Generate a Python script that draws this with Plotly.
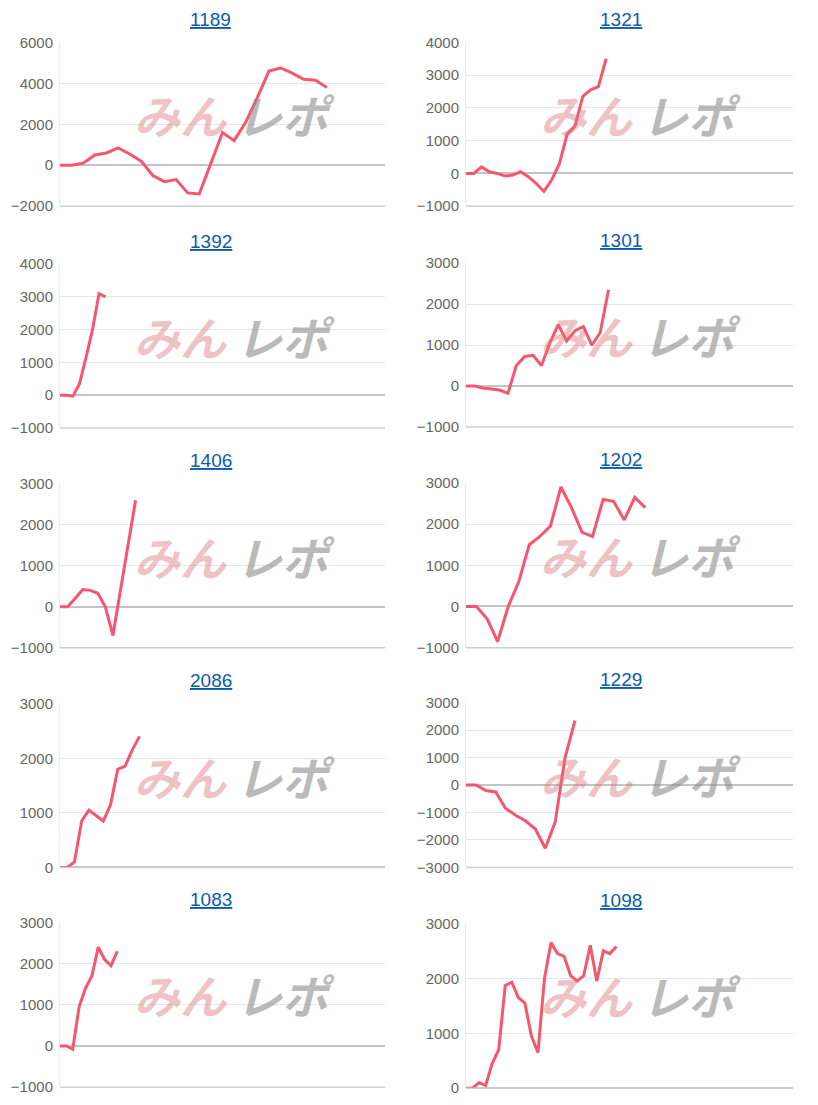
import plotly.graph_objects as go

titles = ["1189", "1321", "1392", "1301", "1406", "1202", "2086", "1229", "1083", "1098"]
v1189 = [0, 0, 100, 500, 600, 850, 550, 200, -500, -800, -700, -1350, -1400, 100, 1600, 1200, 2100, 3300, 4600, 4750, 4500, 4200, 4150, 3800]
v1321 = [0, 0, 200, 50, 0, -80, -50, 50, -100, -300, -550, -200, 300, 1200, 1450, 2350, 2550, 2650, 3500]
v1392 = [0, 0, -30, 350, 1150, 2000, 3100, 3000]
v1301 = [0, 0, -50, -80, -100, -180, 500, 720, 750, 500, 1050, 1500, 1100, 1350, 1450, 1000, 1300, 2350]
v1406 = [0, 0, 200, 420, 400, 330, 0, -700, 400, 1500, 2600]
v1202 = [0, 0, -300, -850, 0, 600, 1500, 1700, 1950, 2900, 2400, 1800, 1700, 2600, 2550, 2100, 2650, 2400]
v2086 = [0, 0, 100, 850, 1050, 950, 850, 1150, 1800, 1850, 2150, 2400]
v1229 = [0, 0, -200, -250, -850, -1100, -1300, -1600, -2300, -1350, 1000, 2350]
v1083 = [0, 0, -80, 950, 1400, 1700, 2400, 2100, 1950, 2300]
v1098 = [0, 0, 100, 50, 450, 700, 1870, 1930, 1650, 1550, 950, 650, 2000, 2650, 2450, 2400, 2050, 1950, 2050, 2600, 1950, 2500, 2450, 2580]
series = [v1189, v1321, v1392, v1301, v1406, v1202, v2086, v1229, v1083, v1098]
slots = [28, 42, 50, 39, 43, 31, 45, 33, 51, 50]
yranges = [(-2000, 6000), (-1000, 4000), (-1000, 4000), (-1000, 3000), (-1000, 3000),
           (-1000, 3000), (0, 3000), (-3000, 3000), (-1000, 3000), (0, 3000)]
dticks = [2000, 1000, 1000, 1000, 1000, 1000, 1000, 1000, 1000, 1000]

W, H = 818, 1105
def X(p):
    return (p - 8) / W
def Y(p):
    return 1 - ((p - 15.6) / 0.9857) / H

colx = [(60, 385), (466, 793)]
title_cx = [188, 644]
rowy = [[(41, 205), (263, 427), (483, 647), (703, 867), (922, 1087)],
        [(41, 205), (262, 426), (482, 647), (702, 867), (923, 1088)]]

fig = go.Figure()
anns = []
for i, (t, v) in enumerate(zip(titles, series)):
    c = i % 2
    r = i // 2
    x0, x1 = colx[c]
    y0, y1 = rowy[c][r]
    n = i + 1
    xa = "x" if n == 1 else f"x{n}"
    ya = "y" if n == 1 else f"y{n}"
    fig.add_trace(go.Scatter(x=list(range(len(v))), y=v, mode="lines",
                             line=dict(color="#f7566f", width=3), xaxis=xa, yaxis=ya,
                             showlegend=False, hoverinfo="skip"))
    lo, hi = yranges[i]
    fig.update_layout(**{
        ("xaxis" if n == 1 else f"xaxis{n}"): dict(
            domain=[X(x0), X(x1)], range=[0, slots[i]], showticklabels=False,
            showgrid=False, zeroline=False, showline=False, anchor=ya, fixedrange=True),
        ("yaxis" if n == 1 else f"yaxis{n}"): dict(
            domain=[Y(y1), Y(y0)], range=[lo, hi], dtick=dticks[i],
            tickfont=dict(family="Arial, Liberation Sans", size=15, color="#666"),
            gridcolor="#e6e6e6", zeroline=True, zerolinecolor="#c4c4c4", zerolinewidth=1.5,
            showline=True, linecolor="#ececec", ticks="", anchor=xa, fixedrange=True,
            ticklabelstandoff=3),
    })
    fig.add_shape(type="line", xref=f"{xa} domain", yref=f"{ya} domain", x0=0, x1=1, y0=0, y1=0,
                  line=dict(color="#d0d0d0", width=1.5))
    anns.append(dict(x=X(title_cx[c]), y=Y(y0 - 23), xref="paper", yref="paper",
                     text=f"<u>{t}</u>", showarrow=False, yanchor="middle",
                     font=dict(family="Arial, Liberation Sans", size=19, color="#0b5cad")))
    wy = Y(y0 + 72)
    anns.append(dict(x=X(x0 + 72), y=wy, xref="paper", yref="paper", text="<b><i>みん</i></b>",
                     showarrow=False, xanchor="left", yanchor="middle",
                     font=dict(family="Noto Sans CJK JP", size=46, color="rgba(220,120,125,0.45)")))
    anns.append(dict(x=X(x0 + 174), y=wy, xref="paper", yref="paper", text="<b><i>レポ</i></b>",
                     showarrow=False, xanchor="left", yanchor="middle",
                     font=dict(family="Noto Sans CJK JP", size=46, color="rgba(140,140,140,0.6)")))

fig.update_layout(width=W, height=H, margin=dict(l=0, r=0, t=0, b=0),
                  plot_bgcolor="white", paper_bgcolor="white", annotations=anns)
fig.write_html("out.html")
